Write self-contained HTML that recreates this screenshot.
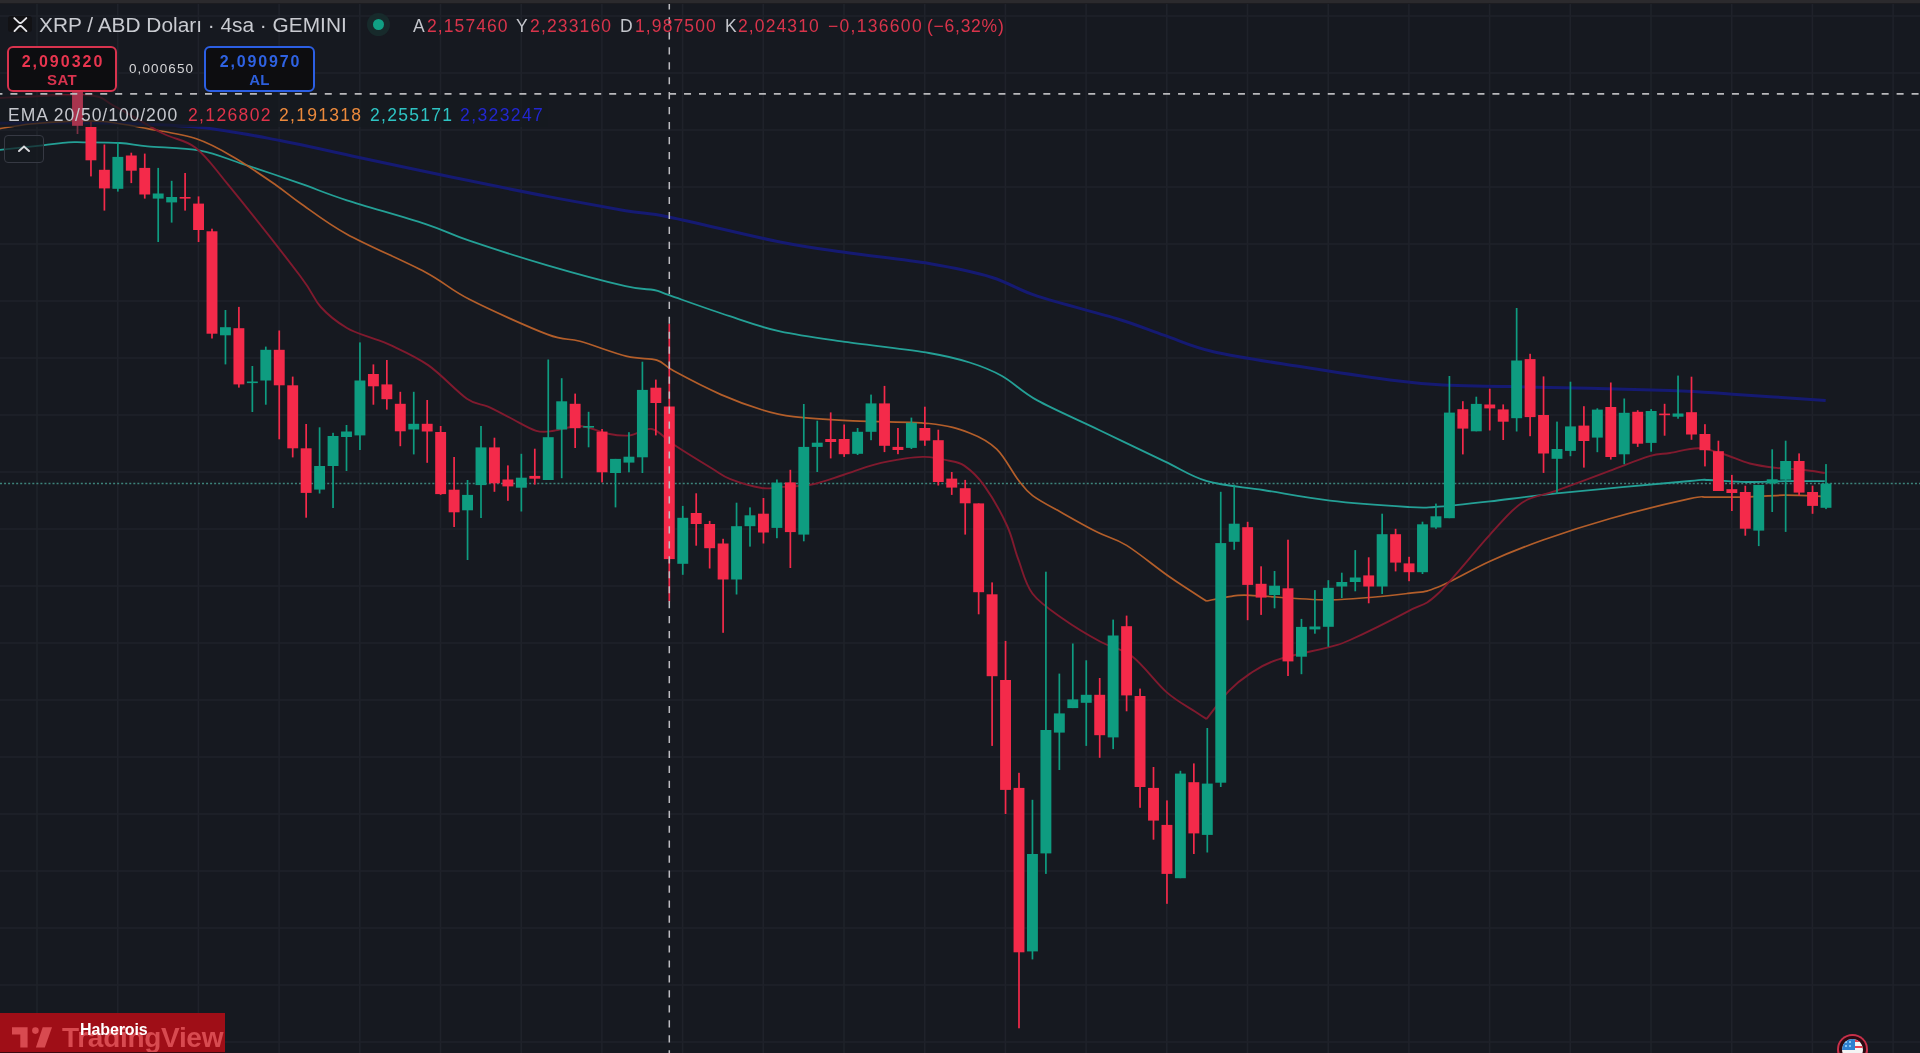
<!DOCTYPE html>
<html><head><meta charset="utf-8">
<style>
html,body{margin:0;padding:0;}
body{width:1920px;height:1053px;overflow:hidden;background:#161920;position:relative;font-family:"Liberation Sans",sans-serif;}
.abs{position:absolute;white-space:nowrap;}
#topbar{position:absolute;left:0;top:0;width:1920px;height:2.5px;background:#2b2a2d;}
#topbar2{position:absolute;left:0;top:2.5px;width:1920px;height:1.5px;background:#1c1c20;}
svg{position:absolute;left:0;top:0;}
.t{position:absolute;white-space:nowrap;line-height:1;will-change:transform;}
.box{position:absolute;box-sizing:border-box;border-radius:6px;background:#0d0d10;}
</style></head><body>
<svg width="1920" height="1053" viewBox="0 0 1920 1053">
<line x1="37.0" y1="0" x2="37.0" y2="1053" stroke="#1f222a" stroke-width="1.6"/>
<line x1="117.7" y1="0" x2="117.7" y2="1053" stroke="#1f222a" stroke-width="1.6"/>
<line x1="198.4" y1="0" x2="198.4" y2="1053" stroke="#1f222a" stroke-width="1.6"/>
<line x1="279.1" y1="0" x2="279.1" y2="1053" stroke="#1f222a" stroke-width="1.6"/>
<line x1="359.8" y1="0" x2="359.8" y2="1053" stroke="#1f222a" stroke-width="1.6"/>
<line x1="440.5" y1="0" x2="440.5" y2="1053" stroke="#1f222a" stroke-width="1.6"/>
<line x1="521.2" y1="0" x2="521.2" y2="1053" stroke="#1f222a" stroke-width="1.6"/>
<line x1="601.9" y1="0" x2="601.9" y2="1053" stroke="#1f222a" stroke-width="1.6"/>
<line x1="682.6" y1="0" x2="682.6" y2="1053" stroke="#1f222a" stroke-width="1.6"/>
<line x1="763.3" y1="0" x2="763.3" y2="1053" stroke="#1f222a" stroke-width="1.6"/>
<line x1="844.0" y1="0" x2="844.0" y2="1053" stroke="#1f222a" stroke-width="1.6"/>
<line x1="924.7" y1="0" x2="924.7" y2="1053" stroke="#1f222a" stroke-width="1.6"/>
<line x1="1005.4" y1="0" x2="1005.4" y2="1053" stroke="#1f222a" stroke-width="1.6"/>
<line x1="1086.1" y1="0" x2="1086.1" y2="1053" stroke="#1f222a" stroke-width="1.6"/>
<line x1="1166.8" y1="0" x2="1166.8" y2="1053" stroke="#1f222a" stroke-width="1.6"/>
<line x1="1247.5" y1="0" x2="1247.5" y2="1053" stroke="#1f222a" stroke-width="1.6"/>
<line x1="1328.2" y1="0" x2="1328.2" y2="1053" stroke="#1f222a" stroke-width="1.6"/>
<line x1="1408.9" y1="0" x2="1408.9" y2="1053" stroke="#1f222a" stroke-width="1.6"/>
<line x1="1489.6" y1="0" x2="1489.6" y2="1053" stroke="#1f222a" stroke-width="1.6"/>
<line x1="1570.3" y1="0" x2="1570.3" y2="1053" stroke="#1f222a" stroke-width="1.6"/>
<line x1="1651.0" y1="0" x2="1651.0" y2="1053" stroke="#1f222a" stroke-width="1.6"/>
<line x1="1731.7" y1="0" x2="1731.7" y2="1053" stroke="#1f222a" stroke-width="1.6"/>
<line x1="1812.4" y1="0" x2="1812.4" y2="1053" stroke="#1f222a" stroke-width="1.6"/>
<line x1="1893.1" y1="0" x2="1893.1" y2="1053" stroke="#1f222a" stroke-width="1.6"/>
<line x1="0" y1="16.0" x2="1920" y2="16.0" stroke="#1f222a" stroke-width="1.6"/>
<line x1="0" y1="73.0" x2="1920" y2="73.0" stroke="#1f222a" stroke-width="1.6"/>
<line x1="0" y1="130.0" x2="1920" y2="130.0" stroke="#1f222a" stroke-width="1.6"/>
<line x1="0" y1="187.0" x2="1920" y2="187.0" stroke="#1f222a" stroke-width="1.6"/>
<line x1="0" y1="244.0" x2="1920" y2="244.0" stroke="#1f222a" stroke-width="1.6"/>
<line x1="0" y1="301.0" x2="1920" y2="301.0" stroke="#1f222a" stroke-width="1.6"/>
<line x1="0" y1="358.0" x2="1920" y2="358.0" stroke="#1f222a" stroke-width="1.6"/>
<line x1="0" y1="415.0" x2="1920" y2="415.0" stroke="#1f222a" stroke-width="1.6"/>
<line x1="0" y1="472.0" x2="1920" y2="472.0" stroke="#1f222a" stroke-width="1.6"/>
<line x1="0" y1="529.0" x2="1920" y2="529.0" stroke="#1f222a" stroke-width="1.6"/>
<line x1="0" y1="586.0" x2="1920" y2="586.0" stroke="#1f222a" stroke-width="1.6"/>
<line x1="0" y1="643.0" x2="1920" y2="643.0" stroke="#1f222a" stroke-width="1.6"/>
<line x1="0" y1="700.0" x2="1920" y2="700.0" stroke="#1f222a" stroke-width="1.6"/>
<line x1="0" y1="757.0" x2="1920" y2="757.0" stroke="#1f222a" stroke-width="1.6"/>
<line x1="0" y1="814.0" x2="1920" y2="814.0" stroke="#1f222a" stroke-width="1.6"/>
<line x1="0" y1="871.0" x2="1920" y2="871.0" stroke="#1f222a" stroke-width="1.6"/>
<line x1="0" y1="928.0" x2="1920" y2="928.0" stroke="#1f222a" stroke-width="1.6"/>
<line x1="0" y1="985.0" x2="1920" y2="985.0" stroke="#1f222a" stroke-width="1.6"/>
<line x1="0" y1="1042.0" x2="1920" y2="1042.0" stroke="#1f222a" stroke-width="1.6"/>
<line x1="0" y1="483.5" x2="1920" y2="483.5" stroke="#3d837a" stroke-width="1.7" stroke-dasharray="2 2.04"/>
<path d="M0.0,123.3 C17.3,123.2 70.6,122.3 103.7,123.0 C136.8,123.7 169.1,124.4 198.5,127.3 C227.9,130.2 254.4,135.7 280.0,140.5 C305.6,145.3 322.7,149.8 352.0,156.0 C381.3,162.2 423.4,171.3 456.0,178.0 C488.6,184.7 519.1,191.0 547.4,196.4 C575.6,201.8 605.1,207.2 625.5,210.7 C645.9,214.2 644.0,212.0 669.8,217.2 C695.5,222.4 750.4,236.1 780.0,242.0 C809.6,247.9 822.9,249.2 847.7,252.8 C872.5,256.4 905.1,259.5 929.0,263.6 C952.9,267.7 973.2,271.8 991.3,277.2 C1009.3,282.6 1016.1,289.2 1037.3,296.2 C1058.5,303.2 1097.4,312.7 1118.6,319.2 C1139.8,325.7 1148.8,330.0 1164.6,335.4 C1180.4,340.8 1190.8,346.5 1213.4,351.7 C1236.0,356.9 1270.6,361.9 1300.0,366.6 C1329.4,371.3 1366.2,376.9 1390.0,380.0 C1413.8,383.1 1423.0,383.9 1443.0,385.0 C1463.0,386.1 1472.2,385.7 1510.0,386.6 C1547.8,387.5 1632.9,389.1 1670.0,390.4 C1707.1,391.7 1706.8,392.5 1732.7,394.2 C1758.7,395.9 1810.2,399.4 1825.7,400.5" fill="none" stroke="#151a72" stroke-width="3" stroke-linejoin="round"/>
<path d="M0.0,149.9 C7.1,149.1 31.1,146.6 42.5,145.3 C53.9,144.0 61.5,142.8 68.3,142.3 C75.1,141.8 74.9,142.2 83.5,142.3 C92.1,142.4 109.3,142.3 120.0,143.0 C130.7,143.7 134.2,145.0 147.5,146.3 C160.8,147.6 184.2,147.7 200.0,150.6 C215.8,153.5 225.6,158.3 242.3,163.8 C259.0,169.3 282.6,177.3 300.0,183.4 C317.4,189.5 326.1,193.6 346.9,200.3 C367.7,207.0 404.6,217.0 425.0,223.8 C445.4,230.5 448.9,233.8 469.3,240.7 C489.7,247.6 521.4,257.8 547.4,265.4 C573.4,273.0 607.7,282.1 625.5,286.2 C643.3,290.4 646.6,288.5 654.0,290.0 C661.4,291.5 657.2,291.0 669.8,295.4 C682.4,299.8 711.3,310.2 729.7,316.2 C748.1,322.2 760.3,327.1 780.0,331.4 C799.7,335.7 822.9,338.6 847.7,342.2 C872.5,345.8 908.7,349.6 929.0,353.0 C949.3,356.4 957.4,358.7 969.6,362.5 C981.8,366.3 990.7,369.7 1002.0,376.0 C1013.3,382.3 1021.0,391.4 1037.3,400.4 C1053.6,409.4 1078.4,420.0 1099.6,430.2 C1120.8,440.4 1146.7,452.9 1164.6,461.4 C1182.5,469.9 1190.6,476.4 1207.0,481.2 C1223.4,486.0 1242.5,486.8 1263.0,490.0 C1283.5,493.2 1305.8,497.8 1330.0,500.6 C1354.2,503.4 1390.5,505.9 1408.0,507.0 C1425.5,508.1 1421.3,507.9 1435.0,507.0 C1448.7,506.1 1469.8,503.7 1490.0,501.4 C1510.2,499.1 1523.2,496.8 1556.5,493.4 C1589.8,490.0 1664.8,483.2 1690.0,481.0 C1715.2,478.8 1698.7,479.8 1708.0,480.0 C1717.3,480.2 1733.3,481.8 1746.0,482.0 C1758.7,482.2 1770.9,481.3 1784.0,481.2 C1797.1,481.1 1818.0,481.2 1824.8,481.2" fill="none" stroke="#24a096" stroke-width="1.8" stroke-linejoin="round"/>
<path d="M0.0,128.6 C5.1,127.8 19.0,125.2 30.4,124.0 C41.8,122.8 56.1,121.8 68.3,121.4 C80.5,121.0 90.5,120.3 103.7,121.5 C116.9,122.7 131.9,125.8 147.5,128.7 C163.1,131.6 182.4,134.1 197.0,139.0 C211.6,143.9 221.9,150.3 235.0,158.0 C248.1,165.7 265.0,177.5 275.8,185.0 C286.6,192.5 288.1,194.8 300.0,203.0 C311.9,211.2 326.1,222.7 346.9,234.2 C367.7,245.7 404.6,261.1 425.0,272.0 C445.4,282.9 448.9,288.9 469.3,299.3 C489.7,309.7 528.9,327.4 547.4,334.4 C565.9,341.4 566.7,337.6 580.0,341.3 C593.3,345.0 614.2,353.3 627.0,356.4 C639.8,359.5 649.0,357.7 656.8,360.1 C664.6,362.6 663.3,365.4 674.0,371.1 C684.7,376.9 706.4,388.2 721.0,394.6 C735.6,401.0 749.7,406.0 761.8,409.7 C773.9,413.4 779.2,414.9 793.5,416.7 C807.8,418.5 825.1,419.6 847.7,420.7 C870.3,421.8 908.7,421.4 929.0,423.5 C949.3,425.6 958.3,428.7 969.6,433.0 C980.9,437.3 988.6,441.4 996.7,449.2 C1004.8,457.0 1012.3,472.3 1018.3,480.0 C1024.3,487.7 1025.0,489.9 1032.6,495.6 C1040.2,501.3 1053.1,507.8 1064.0,514.0 C1074.9,520.2 1087.7,527.4 1098.1,532.6 C1108.5,537.8 1114.7,538.0 1126.6,545.4 C1138.5,552.8 1156.1,567.5 1169.4,576.8 C1182.7,586.1 1200.2,597.0 1206.4,601.0 M1206.4,601.0 C1210.2,600.3 1221.9,597.7 1229.2,596.7 C1236.5,595.8 1233.2,594.8 1250.0,595.3 C1266.8,595.8 1303.7,600.1 1330.0,599.8 C1356.3,599.5 1390.1,595.5 1408.0,593.4 C1425.9,591.3 1423.9,592.7 1437.6,587.3 C1451.3,581.9 1472.4,569.1 1490.0,561.2 C1507.6,553.3 1523.1,547.1 1543.0,540.0 C1562.9,532.9 1585.1,525.6 1609.6,518.7 C1634.1,511.8 1673.6,502.3 1690.0,498.7 C1706.4,495.1 1698.7,497.4 1708.0,497.1 C1717.3,496.8 1733.3,497.4 1746.0,497.1 C1758.7,496.8 1770.9,495.3 1784.0,495.2 C1797.1,495.1 1818.0,496.2 1824.8,496.4" fill="none" stroke="#b35e2a" stroke-width="1.7" stroke-linejoin="round"/>
<path d="M0.0,98.0 C14.5,97.5 68.0,93.9 87.0,95.2 C106.0,96.5 101.4,99.5 113.9,105.8 C126.4,112.1 148.4,126.0 162.0,133.0 C175.6,140.0 184.7,139.2 195.6,147.7 C206.5,156.2 210.3,162.8 227.7,184.2 C245.1,205.5 284.5,255.3 300.0,275.8 C315.5,296.3 313.0,298.3 320.8,307.0 C328.6,315.7 338.2,322.8 346.9,328.0 C355.6,333.2 365.7,335.5 372.9,338.3 C380.1,341.1 380.7,340.4 390.0,344.9 C399.3,349.4 415.7,356.4 428.5,365.4 C441.3,374.4 457.1,391.9 466.9,398.7 C476.7,405.5 480.1,403.2 487.4,406.4 C494.7,409.6 502.4,413.9 510.5,418.0 C518.6,422.1 529.0,428.7 536.2,430.8 C543.5,432.9 546.7,431.6 554.0,430.8 C561.3,430.0 571.0,425.5 580.0,426.0 C589.0,426.5 599.9,432.2 608.2,433.8 C616.5,435.4 622.7,436.2 630.0,435.4 C637.3,434.6 644.7,427.4 652.0,429.0 C659.3,430.6 664.1,438.2 674.0,444.8 C683.9,451.4 702.2,462.6 711.6,468.3 C721.0,474.0 722.0,475.9 730.4,479.2 C738.8,482.5 753.5,486.7 761.8,488.0 C770.1,489.3 771.7,487.6 780.0,487.0 C788.3,486.4 801.3,486.5 811.8,484.5 C822.3,482.5 832.6,478.3 843.1,475.0 C853.6,471.7 864.0,467.4 874.5,464.6 C885.0,461.8 897.4,459.7 905.8,458.4 C914.1,457.1 917.6,456.6 924.6,456.9 C931.6,457.2 941.0,458.9 947.6,460.4 C954.2,461.8 958.1,461.4 964.2,465.6 C970.3,469.8 977.1,475.6 984.2,485.6 C991.3,495.6 1001.3,513.1 1007.0,525.5 C1012.7,537.9 1014.1,548.3 1018.4,559.7 C1022.7,571.1 1025.0,583.8 1032.6,593.8 C1040.2,603.8 1052.8,611.5 1064.0,619.5 C1075.2,627.5 1088.6,635.3 1100.0,641.5 C1111.4,647.7 1121.2,648.1 1132.3,656.5 C1143.4,664.9 1156.0,682.9 1166.5,692.1 C1177.0,701.3 1188.3,707.0 1195.0,711.5 C1201.7,716.0 1204.6,717.8 1206.5,719.0 M1206.5,719.0 C1210.3,714.3 1222.0,698.3 1229.2,690.7 C1236.5,683.1 1242.2,678.7 1250.0,673.6 C1257.8,668.5 1262.9,664.6 1276.2,660.1 C1289.5,655.6 1317.7,650.1 1330.0,646.8 C1342.3,643.4 1337.0,645.9 1350.0,640.0 C1363.0,634.1 1393.4,619.0 1408.0,611.3 C1422.6,603.6 1423.9,606.8 1437.6,594.0 C1451.3,581.2 1475.9,549.8 1490.0,534.6 C1504.1,519.4 1510.9,510.0 1522.0,502.7 C1533.1,495.4 1541.9,496.0 1556.5,490.7 C1571.1,485.4 1594.1,476.6 1609.6,470.8 C1625.1,465.1 1639.4,459.2 1649.5,456.2 C1659.6,453.2 1661.8,454.3 1670.0,453.0 C1678.2,451.7 1689.6,448.1 1698.5,448.3 C1707.4,448.5 1714.7,451.5 1723.2,454.0 C1731.8,456.5 1740.9,461.2 1749.8,463.5 C1758.7,465.8 1767.5,466.8 1776.4,467.9 C1785.3,468.9 1794.9,468.9 1803.0,469.8 C1811.1,470.7 1821.2,472.5 1824.8,473.0" fill="none" stroke="#801a2e" stroke-width="1.9" stroke-linejoin="round"/>
<rect x="90.10" y="122.0" width="1.7" height="54.4" fill="#f42a4a"/>
<rect x="85.50" y="127.0" width="10.9" height="33.3" fill="#f42a4a"/>
<rect x="103.55" y="144.5" width="1.7" height="66.1" fill="#f42a4a"/>
<rect x="98.95" y="169.8" width="10.9" height="18.6" fill="#f42a4a"/>
<rect x="117.00" y="142.2" width="1.7" height="49.4" fill="#0e9c80"/>
<rect x="112.40" y="156.9" width="10.9" height="31.9" fill="#0e9c80"/>
<rect x="130.45" y="152.7" width="1.7" height="30.4" fill="#f42a4a"/>
<rect x="125.85" y="155.5" width="10.9" height="15.2" fill="#f42a4a"/>
<rect x="143.90" y="153.6" width="1.7" height="45.0" fill="#f42a4a"/>
<rect x="139.30" y="167.9" width="10.9" height="26.6" fill="#f42a4a"/>
<rect x="157.35" y="167.9" width="1.7" height="74.1" fill="#0e9c80"/>
<rect x="152.75" y="193.5" width="10.9" height="5.1" fill="#0e9c80"/>
<rect x="170.80" y="180.8" width="1.7" height="41.8" fill="#0e9c80"/>
<rect x="166.20" y="197.0" width="10.9" height="5.4" fill="#0e9c80"/>
<rect x="184.25" y="173.0" width="1.7" height="37.6" fill="#f42a4a"/>
<rect x="179.65" y="197.0" width="10.9" height="1.6" fill="#f42a4a"/>
<rect x="197.70" y="196.4" width="1.7" height="45.6" fill="#f42a4a"/>
<rect x="193.10" y="203.6" width="10.9" height="26.4" fill="#f42a4a"/>
<rect x="211.15" y="228.7" width="1.7" height="109.8" fill="#f42a4a"/>
<rect x="206.55" y="231.3" width="10.9" height="102.4" fill="#f42a4a"/>
<rect x="224.60" y="310.0" width="1.7" height="54.4" fill="#0e9c80"/>
<rect x="220.00" y="327.2" width="10.9" height="8.1" fill="#0e9c80"/>
<rect x="238.05" y="306.9" width="1.7" height="80.7" fill="#f42a4a"/>
<rect x="233.45" y="328.2" width="10.9" height="56.2" fill="#f42a4a"/>
<rect x="251.50" y="366.0" width="1.7" height="46.0" fill="#0e9c80"/>
<rect x="246.90" y="381.5" width="10.9" height="1.6" fill="#0e9c80"/>
<rect x="264.95" y="346.6" width="1.7" height="58.1" fill="#0e9c80"/>
<rect x="260.35" y="349.8" width="10.9" height="30.7" fill="#0e9c80"/>
<rect x="278.40" y="330.5" width="1.7" height="108.8" fill="#f42a4a"/>
<rect x="273.80" y="349.8" width="10.9" height="35.5" fill="#f42a4a"/>
<rect x="291.85" y="376.6" width="1.7" height="80.8" fill="#f42a4a"/>
<rect x="287.25" y="385.3" width="10.9" height="63.0" fill="#f42a4a"/>
<rect x="305.30" y="424.0" width="1.7" height="93.7" fill="#f42a4a"/>
<rect x="300.70" y="448.3" width="10.9" height="44.6" fill="#f42a4a"/>
<rect x="318.75" y="427.3" width="1.7" height="66.2" fill="#0e9c80"/>
<rect x="314.15" y="466.0" width="10.9" height="23.6" fill="#0e9c80"/>
<rect x="332.20" y="432.8" width="1.7" height="75.2" fill="#0e9c80"/>
<rect x="327.60" y="436.0" width="10.9" height="30.0" fill="#0e9c80"/>
<rect x="345.65" y="425.0" width="1.7" height="46.0" fill="#0e9c80"/>
<rect x="341.05" y="431.5" width="10.9" height="5.5" fill="#0e9c80"/>
<rect x="359.10" y="342.4" width="1.7" height="107.6" fill="#0e9c80"/>
<rect x="354.50" y="380.5" width="10.9" height="54.9" fill="#0e9c80"/>
<rect x="372.55" y="364.4" width="1.7" height="40.3" fill="#f42a4a"/>
<rect x="367.95" y="374.0" width="10.9" height="12.3" fill="#f42a4a"/>
<rect x="386.00" y="360.0" width="1.7" height="49.6" fill="#f42a4a"/>
<rect x="381.40" y="384.4" width="10.9" height="14.8" fill="#f42a4a"/>
<rect x="399.45" y="391.8" width="1.7" height="54.4" fill="#f42a4a"/>
<rect x="394.85" y="403.8" width="10.9" height="27.5" fill="#f42a4a"/>
<rect x="412.90" y="391.8" width="1.7" height="62.6" fill="#0e9c80"/>
<rect x="408.30" y="423.8" width="10.9" height="5.7" fill="#0e9c80"/>
<rect x="426.35" y="400.0" width="1.7" height="62.8" fill="#f42a4a"/>
<rect x="421.75" y="423.8" width="10.9" height="7.7" fill="#f42a4a"/>
<rect x="439.80" y="426.0" width="1.7" height="68.9" fill="#f42a4a"/>
<rect x="435.20" y="432.0" width="10.9" height="62.1" fill="#f42a4a"/>
<rect x="453.25" y="457.0" width="1.7" height="70.0" fill="#f42a4a"/>
<rect x="448.65" y="489.7" width="10.9" height="22.6" fill="#f42a4a"/>
<rect x="466.70" y="480.0" width="1.7" height="80.0" fill="#0e9c80"/>
<rect x="462.10" y="494.9" width="10.9" height="15.4" fill="#0e9c80"/>
<rect x="480.15" y="426.0" width="1.7" height="92.0" fill="#0e9c80"/>
<rect x="475.55" y="447.4" width="10.9" height="37.7" fill="#0e9c80"/>
<rect x="493.60" y="437.7" width="1.7" height="54.1" fill="#f42a4a"/>
<rect x="489.00" y="447.4" width="10.9" height="35.9" fill="#f42a4a"/>
<rect x="507.05" y="465.4" width="1.7" height="35.4" fill="#f42a4a"/>
<rect x="502.45" y="479.5" width="10.9" height="6.9" fill="#f42a4a"/>
<rect x="520.50" y="453.8" width="1.7" height="57.7" fill="#0e9c80"/>
<rect x="515.90" y="477.7" width="10.9" height="10.0" fill="#0e9c80"/>
<rect x="533.95" y="448.7" width="1.7" height="35.9" fill="#f42a4a"/>
<rect x="529.35" y="475.9" width="10.9" height="2.8" fill="#f42a4a"/>
<rect x="547.40" y="359.5" width="1.7" height="120.5" fill="#0e9c80"/>
<rect x="542.80" y="437.2" width="10.9" height="42.8" fill="#0e9c80"/>
<rect x="560.85" y="378.2" width="1.7" height="100.0" fill="#0e9c80"/>
<rect x="556.25" y="401.3" width="10.9" height="28.2" fill="#0e9c80"/>
<rect x="574.30" y="393.6" width="1.7" height="54.4" fill="#f42a4a"/>
<rect x="569.70" y="403.8" width="10.9" height="24.4" fill="#f42a4a"/>
<rect x="587.75" y="411.8" width="1.7" height="35.5" fill="#0e9c80"/>
<rect x="583.15" y="426.0" width="10.9" height="1.6" fill="#0e9c80"/>
<rect x="601.20" y="429.0" width="1.7" height="53.4" fill="#f42a4a"/>
<rect x="596.60" y="431.6" width="10.9" height="40.7" fill="#f42a4a"/>
<rect x="614.65" y="458.9" width="1.7" height="48.5" fill="#0e9c80"/>
<rect x="610.05" y="458.9" width="10.9" height="14.1" fill="#0e9c80"/>
<rect x="628.10" y="432.2" width="1.7" height="40.1" fill="#0e9c80"/>
<rect x="623.50" y="456.7" width="10.9" height="5.9" fill="#0e9c80"/>
<rect x="641.55" y="361.7" width="1.7" height="111.3" fill="#0e9c80"/>
<rect x="636.95" y="389.9" width="10.9" height="67.4" fill="#0e9c80"/>
<rect x="655.00" y="379.6" width="1.7" height="55.8" fill="#f42a4a"/>
<rect x="650.40" y="387.7" width="10.9" height="15.3" fill="#f42a4a"/>
<rect x="668.45" y="324.0" width="1.7" height="277.4" fill="#f42a4a"/>
<rect x="663.85" y="406.5" width="10.9" height="152.6" fill="#f42a4a"/>
<rect x="681.90" y="505.9" width="1.7" height="68.9" fill="#0e9c80"/>
<rect x="677.30" y="517.8" width="10.9" height="46.0" fill="#0e9c80"/>
<rect x="695.35" y="493.3" width="1.7" height="52.4" fill="#f42a4a"/>
<rect x="690.75" y="513.0" width="10.9" height="11.0" fill="#f42a4a"/>
<rect x="708.80" y="520.9" width="1.7" height="47.6" fill="#f42a4a"/>
<rect x="704.20" y="524.0" width="10.9" height="24.2" fill="#f42a4a"/>
<rect x="722.25" y="538.8" width="1.7" height="94.0" fill="#f42a4a"/>
<rect x="717.65" y="543.5" width="10.9" height="36.0" fill="#f42a4a"/>
<rect x="735.70" y="502.7" width="1.7" height="91.8" fill="#0e9c80"/>
<rect x="731.10" y="526.2" width="10.9" height="53.3" fill="#0e9c80"/>
<rect x="749.15" y="507.4" width="1.7" height="39.2" fill="#0e9c80"/>
<rect x="744.55" y="515.3" width="10.9" height="10.9" fill="#0e9c80"/>
<rect x="762.60" y="498.0" width="1.7" height="45.5" fill="#f42a4a"/>
<rect x="758.00" y="513.7" width="10.9" height="18.8" fill="#f42a4a"/>
<rect x="776.05" y="479.5" width="1.7" height="58.7" fill="#0e9c80"/>
<rect x="771.45" y="482.6" width="10.9" height="45.3" fill="#0e9c80"/>
<rect x="789.50" y="469.8" width="1.7" height="98.2" fill="#f42a4a"/>
<rect x="784.90" y="482.4" width="10.9" height="49.7" fill="#f42a4a"/>
<rect x="802.95" y="404.0" width="1.7" height="137.3" fill="#0e9c80"/>
<rect x="798.35" y="446.9" width="10.9" height="87.7" fill="#0e9c80"/>
<rect x="816.40" y="420.7" width="1.7" height="51.3" fill="#0e9c80"/>
<rect x="811.80" y="442.7" width="10.9" height="4.2" fill="#0e9c80"/>
<rect x="829.85" y="412.4" width="1.7" height="46.0" fill="#f42a4a"/>
<rect x="825.25" y="439.0" width="10.9" height="3.0" fill="#f42a4a"/>
<rect x="843.30" y="424.5" width="1.7" height="32.4" fill="#f42a4a"/>
<rect x="838.70" y="439.0" width="10.9" height="15.2" fill="#f42a4a"/>
<rect x="856.75" y="428.0" width="1.7" height="27.0" fill="#0e9c80"/>
<rect x="852.15" y="431.8" width="10.9" height="22.0" fill="#0e9c80"/>
<rect x="870.20" y="394.6" width="1.7" height="45.6" fill="#0e9c80"/>
<rect x="865.60" y="403.4" width="10.9" height="28.4" fill="#0e9c80"/>
<rect x="883.65" y="385.9" width="1.7" height="66.2" fill="#f42a4a"/>
<rect x="879.05" y="403.4" width="10.9" height="42.4" fill="#f42a4a"/>
<rect x="897.10" y="428.0" width="1.7" height="26.2" fill="#f42a4a"/>
<rect x="892.50" y="446.9" width="10.9" height="3.1" fill="#f42a4a"/>
<rect x="910.55" y="417.6" width="1.7" height="31.4" fill="#0e9c80"/>
<rect x="905.95" y="422.8" width="10.9" height="25.1" fill="#0e9c80"/>
<rect x="924.00" y="406.7" width="1.7" height="39.1" fill="#f42a4a"/>
<rect x="919.40" y="428.0" width="10.9" height="12.6" fill="#f42a4a"/>
<rect x="937.45" y="429.7" width="1.7" height="55.8" fill="#f42a4a"/>
<rect x="932.85" y="440.2" width="10.9" height="41.8" fill="#f42a4a"/>
<rect x="950.90" y="472.0" width="1.7" height="22.9" fill="#f42a4a"/>
<rect x="946.30" y="478.6" width="10.9" height="9.0" fill="#f42a4a"/>
<rect x="964.35" y="479.9" width="1.7" height="54.7" fill="#f42a4a"/>
<rect x="959.75" y="488.2" width="10.9" height="15.1" fill="#f42a4a"/>
<rect x="977.80" y="503.4" width="1.7" height="110.9" fill="#f42a4a"/>
<rect x="973.20" y="503.4" width="10.9" height="88.8" fill="#f42a4a"/>
<rect x="991.25" y="582.4" width="1.7" height="163.5" fill="#f42a4a"/>
<rect x="986.65" y="594.3" width="10.9" height="81.9" fill="#f42a4a"/>
<rect x="1004.70" y="640.9" width="1.7" height="173.1" fill="#f42a4a"/>
<rect x="1000.10" y="680.0" width="10.9" height="109.9" fill="#f42a4a"/>
<rect x="1018.15" y="772.8" width="1.7" height="255.5" fill="#f42a4a"/>
<rect x="1013.55" y="787.9" width="10.9" height="164.4" fill="#f42a4a"/>
<rect x="1031.60" y="799.8" width="1.7" height="159.6" fill="#0e9c80"/>
<rect x="1027.00" y="854.0" width="10.9" height="97.4" fill="#0e9c80"/>
<rect x="1045.05" y="571.7" width="1.7" height="302.2" fill="#0e9c80"/>
<rect x="1040.45" y="730.0" width="10.9" height="123.4" fill="#0e9c80"/>
<rect x="1058.50" y="673.6" width="1.7" height="96.4" fill="#0e9c80"/>
<rect x="1053.90" y="713.4" width="10.9" height="19.2" fill="#0e9c80"/>
<rect x="1071.95" y="643.5" width="1.7" height="64.6" fill="#0e9c80"/>
<rect x="1067.35" y="699.4" width="10.9" height="8.7" fill="#0e9c80"/>
<rect x="1085.40" y="660.3" width="1.7" height="85.6" fill="#0e9c80"/>
<rect x="1080.80" y="694.8" width="10.9" height="8.0" fill="#0e9c80"/>
<rect x="1098.85" y="678.0" width="1.7" height="79.8" fill="#f42a4a"/>
<rect x="1094.25" y="694.8" width="10.9" height="40.4" fill="#f42a4a"/>
<rect x="1112.30" y="619.6" width="1.7" height="129.5" fill="#0e9c80"/>
<rect x="1107.70" y="635.5" width="10.9" height="101.9" fill="#0e9c80"/>
<rect x="1125.75" y="615.6" width="1.7" height="95.7" fill="#f42a4a"/>
<rect x="1121.15" y="626.2" width="10.9" height="69.2" fill="#f42a4a"/>
<rect x="1139.20" y="688.6" width="1.7" height="119.2" fill="#f42a4a"/>
<rect x="1134.60" y="696.0" width="10.9" height="91.0" fill="#f42a4a"/>
<rect x="1152.65" y="767.0" width="1.7" height="72.7" fill="#f42a4a"/>
<rect x="1148.05" y="787.9" width="10.9" height="32.7" fill="#f42a4a"/>
<rect x="1166.10" y="800.4" width="1.7" height="103.4" fill="#f42a4a"/>
<rect x="1161.50" y="824.9" width="10.9" height="49.0" fill="#f42a4a"/>
<rect x="1179.55" y="770.8" width="1.7" height="107.4" fill="#0e9c80"/>
<rect x="1174.95" y="773.6" width="10.9" height="104.6" fill="#0e9c80"/>
<rect x="1193.00" y="763.4" width="1.7" height="90.6" fill="#f42a4a"/>
<rect x="1188.40" y="782.2" width="10.9" height="51.2" fill="#f42a4a"/>
<rect x="1206.45" y="728.0" width="1.7" height="124.5" fill="#0e9c80"/>
<rect x="1201.85" y="783.6" width="10.9" height="51.3" fill="#0e9c80"/>
<rect x="1219.90" y="491.8" width="1.7" height="295.2" fill="#0e9c80"/>
<rect x="1215.30" y="543.1" width="10.9" height="239.6" fill="#0e9c80"/>
<rect x="1233.35" y="484.6" width="1.7" height="65.2" fill="#0e9c80"/>
<rect x="1228.75" y="523.7" width="10.9" height="18.1" fill="#0e9c80"/>
<rect x="1246.80" y="521.8" width="1.7" height="98.4" fill="#f42a4a"/>
<rect x="1242.20" y="527.2" width="10.9" height="57.7" fill="#f42a4a"/>
<rect x="1260.25" y="566.3" width="1.7" height="48.6" fill="#f42a4a"/>
<rect x="1255.65" y="583.8" width="10.9" height="13.8" fill="#f42a4a"/>
<rect x="1273.70" y="571.0" width="1.7" height="37.3" fill="#0e9c80"/>
<rect x="1269.10" y="585.7" width="10.9" height="9.3" fill="#0e9c80"/>
<rect x="1287.15" y="539.7" width="1.7" height="136.3" fill="#f42a4a"/>
<rect x="1282.55" y="588.3" width="10.9" height="73.1" fill="#f42a4a"/>
<rect x="1300.60" y="618.9" width="1.7" height="55.3" fill="#0e9c80"/>
<rect x="1296.00" y="626.9" width="10.9" height="29.8" fill="#0e9c80"/>
<rect x="1314.05" y="590.1" width="1.7" height="43.6" fill="#0e9c80"/>
<rect x="1309.45" y="626.5" width="10.9" height="2.9" fill="#0e9c80"/>
<rect x="1327.50" y="580.2" width="1.7" height="66.6" fill="#0e9c80"/>
<rect x="1322.90" y="587.8" width="10.9" height="39.0" fill="#0e9c80"/>
<rect x="1340.95" y="572.7" width="1.7" height="25.3" fill="#0e9c80"/>
<rect x="1336.35" y="582.0" width="10.9" height="4.5" fill="#0e9c80"/>
<rect x="1354.40" y="550.1" width="1.7" height="41.2" fill="#0e9c80"/>
<rect x="1349.80" y="577.5" width="10.9" height="4.5" fill="#0e9c80"/>
<rect x="1367.85" y="557.3" width="1.7" height="46.0" fill="#f42a4a"/>
<rect x="1363.25" y="575.4" width="10.9" height="11.1" fill="#f42a4a"/>
<rect x="1381.30" y="513.7" width="1.7" height="80.3" fill="#0e9c80"/>
<rect x="1376.70" y="534.2" width="10.9" height="52.3" fill="#0e9c80"/>
<rect x="1394.75" y="528.8" width="1.7" height="42.6" fill="#f42a4a"/>
<rect x="1390.15" y="534.2" width="10.9" height="28.4" fill="#f42a4a"/>
<rect x="1408.20" y="556.8" width="1.7" height="24.4" fill="#f42a4a"/>
<rect x="1403.60" y="563.4" width="10.9" height="8.8" fill="#f42a4a"/>
<rect x="1421.65" y="521.7" width="1.7" height="52.3" fill="#0e9c80"/>
<rect x="1417.05" y="524.3" width="10.9" height="47.9" fill="#0e9c80"/>
<rect x="1435.10" y="503.6" width="1.7" height="25.2" fill="#0e9c80"/>
<rect x="1430.50" y="516.3" width="10.9" height="11.2" fill="#0e9c80"/>
<rect x="1448.55" y="376.0" width="1.7" height="142.2" fill="#0e9c80"/>
<rect x="1443.95" y="412.6" width="10.9" height="105.6" fill="#0e9c80"/>
<rect x="1462.00" y="401.2" width="1.7" height="53.2" fill="#f42a4a"/>
<rect x="1457.40" y="409.2" width="10.9" height="19.4" fill="#f42a4a"/>
<rect x="1475.45" y="396.7" width="1.7" height="34.6" fill="#0e9c80"/>
<rect x="1470.85" y="403.9" width="10.9" height="27.4" fill="#0e9c80"/>
<rect x="1488.90" y="388.7" width="1.7" height="41.8" fill="#f42a4a"/>
<rect x="1484.30" y="404.5" width="10.9" height="3.9" fill="#f42a4a"/>
<rect x="1502.35" y="404.4" width="1.7" height="35.6" fill="#f42a4a"/>
<rect x="1497.75" y="409.4" width="10.9" height="12.3" fill="#f42a4a"/>
<rect x="1515.80" y="308.0" width="1.7" height="123.5" fill="#0e9c80"/>
<rect x="1511.20" y="360.5" width="10.9" height="57.7" fill="#0e9c80"/>
<rect x="1529.25" y="353.8" width="1.7" height="82.4" fill="#f42a4a"/>
<rect x="1524.65" y="359.1" width="10.9" height="58.0" fill="#f42a4a"/>
<rect x="1542.70" y="376.4" width="1.7" height="96.5" fill="#f42a4a"/>
<rect x="1538.10" y="415.0" width="10.9" height="38.5" fill="#f42a4a"/>
<rect x="1556.15" y="421.6" width="1.7" height="71.8" fill="#0e9c80"/>
<rect x="1551.55" y="449.0" width="10.9" height="9.8" fill="#0e9c80"/>
<rect x="1569.60" y="381.7" width="1.7" height="74.5" fill="#0e9c80"/>
<rect x="1565.00" y="426.4" width="10.9" height="24.5" fill="#0e9c80"/>
<rect x="1583.05" y="406.2" width="1.7" height="61.4" fill="#f42a4a"/>
<rect x="1578.45" y="425.6" width="10.9" height="15.4" fill="#f42a4a"/>
<rect x="1596.50" y="408.3" width="1.7" height="43.9" fill="#0e9c80"/>
<rect x="1591.90" y="409.6" width="10.9" height="28.0" fill="#0e9c80"/>
<rect x="1609.95" y="382.5" width="1.7" height="77.1" fill="#f42a4a"/>
<rect x="1605.35" y="407.0" width="10.9" height="50.0" fill="#f42a4a"/>
<rect x="1623.40" y="398.5" width="1.7" height="65.7" fill="#0e9c80"/>
<rect x="1618.80" y="412.8" width="10.9" height="41.5" fill="#0e9c80"/>
<rect x="1636.85" y="410.2" width="1.7" height="36.7" fill="#f42a4a"/>
<rect x="1632.25" y="411.8" width="10.9" height="31.9" fill="#f42a4a"/>
<rect x="1650.30" y="409.1" width="1.7" height="42.6" fill="#0e9c80"/>
<rect x="1645.70" y="411.0" width="10.9" height="31.9" fill="#0e9c80"/>
<rect x="1663.75" y="403.8" width="1.7" height="31.9" fill="#f42a4a"/>
<rect x="1659.15" y="413.6" width="10.9" height="1.6" fill="#f42a4a"/>
<rect x="1677.20" y="375.6" width="1.7" height="43.1" fill="#0e9c80"/>
<rect x="1672.60" y="413.5" width="10.9" height="3.2" fill="#0e9c80"/>
<rect x="1690.65" y="376.7" width="1.7" height="63.1" fill="#f42a4a"/>
<rect x="1686.05" y="412.2" width="10.9" height="22.3" fill="#f42a4a"/>
<rect x="1704.10" y="424.2" width="1.7" height="42.2" fill="#f42a4a"/>
<rect x="1699.50" y="434.0" width="10.9" height="16.2" fill="#f42a4a"/>
<rect x="1717.55" y="440.7" width="1.7" height="50.3" fill="#f42a4a"/>
<rect x="1712.95" y="451.2" width="10.9" height="39.8" fill="#f42a4a"/>
<rect x="1731.00" y="474.9" width="1.7" height="36.1" fill="#f42a4a"/>
<rect x="1726.40" y="489.2" width="10.9" height="3.8" fill="#f42a4a"/>
<rect x="1744.45" y="485.7" width="1.7" height="50.0" fill="#f42a4a"/>
<rect x="1739.85" y="492.0" width="10.9" height="36.7" fill="#f42a4a"/>
<rect x="1757.90" y="485.0" width="1.7" height="61.1" fill="#0e9c80"/>
<rect x="1753.30" y="485.0" width="10.9" height="45.6" fill="#0e9c80"/>
<rect x="1771.35" y="449.3" width="1.7" height="62.7" fill="#0e9c80"/>
<rect x="1766.75" y="479.3" width="10.9" height="4.2" fill="#0e9c80"/>
<rect x="1784.80" y="440.7" width="1.7" height="91.2" fill="#0e9c80"/>
<rect x="1780.20" y="461.0" width="10.9" height="18.7" fill="#0e9c80"/>
<rect x="1798.25" y="453.4" width="1.7" height="42.4" fill="#f42a4a"/>
<rect x="1793.65" y="461.0" width="10.9" height="31.6" fill="#f42a4a"/>
<rect x="1811.70" y="485.7" width="1.7" height="28.1" fill="#f42a4a"/>
<rect x="1807.10" y="492.0" width="10.9" height="13.9" fill="#f42a4a"/>
<rect x="1825.15" y="464.1" width="1.7" height="45.0" fill="#0e9c80"/>
<rect x="1820.55" y="483.5" width="10.9" height="24.3" fill="#0e9c80"/>
<rect x="0" y="95" width="548" height="32" fill="#161920" fill-opacity="0.7"/>
<rect x="76.65" y="80.0" width="1.7" height="54.0" fill="#7a3045"/>
<rect x="72.05" y="80.0" width="10.9" height="45.8" fill="#a8344e"/>
<line x1="669.3" y1="0" x2="669.3" y2="1053" stroke="#bdbdc2" stroke-width="1.5" stroke-dasharray="7.2 7.77" stroke-dashoffset="12.67"/>
<line x1="0" y1="93.8" x2="1920" y2="93.8" stroke="#b9b9bc" stroke-width="1.8" stroke-dasharray="7 7.97" stroke-dashoffset="4.57"/>
</svg>
<div id="topbar"></div><div id="topbar2"></div>

<!-- header -->
<div class="abs" style="left:7.7px;top:15.7px;width:24.3px;height:16.8px;background:#121215;border-radius:3px;"></div>
<svg width="40" height="40" style="left:0;top:0;" viewBox="0 0 40 40"><path d="M14.3,18.1 L18.5,22.1 Q20.3,23.9 22.1,22.1 L26.3,18.1 M14.5,31.1 L18.5,26.9 Q20.3,25.1 22.1,26.9 L26.4,31.1" fill="none" stroke="#e6e6ea" stroke-width="1.9" stroke-linecap="round" stroke-linejoin="round"/></svg>
<div class="t" style="left:39px;top:14.7px;font-size:20.85px;color:#c9cbd1;letter-spacing:0px;">XRP / ABD Doları · 4sa · GEMINI</div>
<div class="abs" style="left:366.9px;top:12.9px;width:23px;height:23px;border-radius:50%;background:#172a2b;"></div>
<div class="abs" style="left:372.9px;top:18.9px;width:11px;height:11px;border-radius:50%;background:#10a084;"></div>

<div class="t" style="left:413px;top:18px;font-size:17.5px;color:#c3c5cb;">A</div>
<div class="t" style="left:427px;top:18px;font-size:17.5px;color:#d9344b;letter-spacing:1.08px;">2,157460</div>
<div class="t" style="left:516px;top:18px;font-size:17.5px;color:#c3c5cb;">Y</div>
<div class="t" style="left:530px;top:18px;font-size:17.5px;color:#d9344b;letter-spacing:1.15px;">2,233160</div>
<div class="t" style="left:620px;top:18px;font-size:17.5px;color:#c3c5cb;">D</div>
<div class="t" style="left:635px;top:18px;font-size:17.5px;color:#d9344b;letter-spacing:1.1px;">1,987500</div>
<div class="t" style="left:725px;top:18px;font-size:17.5px;color:#c3c5cb;">K</div>
<div class="t" style="left:738px;top:18px;font-size:17.5px;color:#d9344b;letter-spacing:1.1px;">2,024310</div>
<div class="t" style="left:828px;top:18px;font-size:17.5px;color:#d9344b;letter-spacing:1.3px;">−0,136600</div>
<div class="t" style="left:927px;top:18px;font-size:17.5px;color:#d9344b;letter-spacing:0.75px;">(−6,32%)</div>

<!-- SAT / AL boxes -->
<div class="box" style="left:7px;top:46px;width:110px;height:46px;border:2px solid #d8334e;"></div>
<div class="t" style="left:7px;top:54px;width:110px;text-align:center;font-size:16px;font-weight:bold;color:#e8354f;letter-spacing:2.0px;text-indent:2px;">2,090320</div>
<div class="t" style="left:7px;top:71.8px;width:110px;text-align:center;font-size:15px;font-weight:bold;color:#d8334e;letter-spacing:0.3px;">SAT</div>
<div class="t" style="left:129px;top:62px;font-size:13.5px;color:#d6d6d8;letter-spacing:1.1px;">0,000650</div>
<div class="box" style="left:204px;top:46px;width:111px;height:46px;border:2px solid #2c5fe3;"></div>
<div class="t" style="left:204px;top:54px;width:111px;text-align:center;font-size:16px;font-weight:bold;color:#2f62e2;letter-spacing:1.85px;text-indent:2px;">2,090970</div>
<div class="t" style="left:204px;top:71.8px;width:111px;text-align:center;font-size:15px;font-weight:bold;color:#2d5fdc;letter-spacing:0.3px;">AL</div>

<!-- EMA legend -->
<div class="t" style="left:8px;top:107px;font-size:17.5px;color:#c6c8ce;letter-spacing:0.97px;">EMA 20/50/100/200</div>
<div class="t" style="left:188px;top:107px;font-size:17.5px;color:#e0334a;letter-spacing:1.35px;">2,126802</div>
<div class="t" style="left:279px;top:107px;font-size:17.5px;color:#ec8a3c;letter-spacing:1.3px;">2,191318</div>
<div class="t" style="left:370px;top:107px;font-size:17.5px;color:#2ec4c4;letter-spacing:1.3px;">2,255171</div>
<div class="t" style="left:460px;top:107px;font-size:17.5px;color:#2227d0;letter-spacing:1.4px;">2,323247</div>

<!-- collapse button -->
<div class="box" style="left:4.3px;top:135px;width:39.5px;height:28px;border:1.2px solid #363943;background:rgba(22,25,32,0.7);border-radius:4px;"></div>
<svg width="20" height="12" style="left:13.7px;top:142.3px;" viewBox="0 0 20 12"><path d="M5 9 L10 4.5 L15 9" fill="none" stroke="#d8d8dc" stroke-width="2" stroke-linecap="round"/></svg>

<!-- watermark -->
<div class="abs" style="left:0;top:1013px;width:225px;height:40px;background:#9f0e17;overflow:hidden;">
  <svg width="225" height="40" style="left:0;top:0;" viewBox="0 0 225 40"><path d="M12 14.2 H27.6 V34.5 H20.3 V21.5 H12 Z" fill="#d84a50"/><circle cx="35.4" cy="17.6" r="3.3" fill="#d84a50"/><path d="M42.7 14.2 H52 L44.8 34.5 H35.9 Z" fill="#d84a50"/></svg>
  <div class="t" style="left:62px;top:11px;font-size:28px;font-weight:bold;color:#d84a50;letter-spacing:-0.3px;">TradingView</div>
  <div class="abs" style="left:0;top:38.5px;width:225px;height:2px;background:#3a0a10;"></div>
</div>
<div class="t" style="left:80px;top:1022px;font-size:16px;font-weight:bold;color:#ffffff;letter-spacing:-0.1px;">Haberois</div>

<!-- flag icon -->
<div class="abs" style="left:1837px;top:1033.5px;width:31px;height:31px;border-radius:50%;background:#c8304a;"></div>
<div class="abs" style="left:1839.3px;top:1035.8px;width:26.4px;height:26.4px;border-radius:50%;background:#2a0a12;"></div>
<div class="abs" style="left:1842px;top:1038.5px;width:21px;height:21px;border-radius:50%;overflow:hidden;background:#f4f4f4;">
  <div class="abs" style="left:11px;top:1px;width:10px;height:2.4px;background:#e04050;"></div>
  <div class="abs" style="left:11px;top:7px;width:10px;height:2.6px;background:#e84050;"></div>
  <div class="abs" style="left:0;top:0;width:12.5px;height:11.5px;background:#2f80d0;"></div>
  <div class="abs" style="left:3px;top:2px;width:2px;height:2px;border-radius:50%;background:#9fd8ff;"></div>
  <div class="abs" style="left:7px;top:2px;width:2px;height:2px;border-radius:50%;background:#9fd8ff;"></div>
  <div class="abs" style="left:3px;top:6px;width:2px;height:2px;border-radius:50%;background:#9fd8ff;"></div>
  <div class="abs" style="left:7px;top:6px;width:2px;height:2px;border-radius:50%;background:#9fd8ff;"></div>
</div>
</body></html>
